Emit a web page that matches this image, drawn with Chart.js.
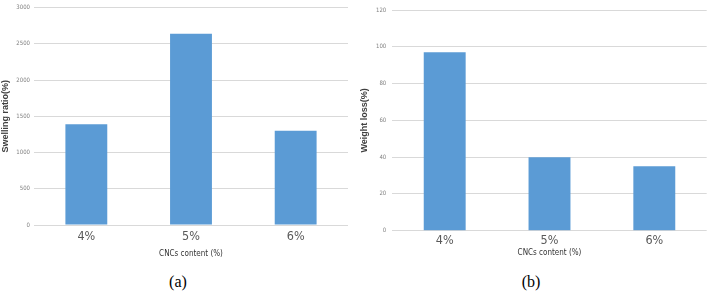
<!DOCTYPE html>
<html>
<head>
<meta charset="utf-8">
<script src="https://cdn.jsdelivr.net/npm/chart.js@4/dist/chart.umd.min.js"></script>
<style>
  html, body { margin:0; padding:0; background:#fff; }
  body { width:708px; height:294px; position:relative; overflow:hidden; }
  .wrap { position:absolute; top:0; width:354px; height:265px; }
  .cap { position:absolute; font-family:"Liberation Serif","DejaVu Serif",serif; font-size:16px; color:#000; transform:translate(-50%,-50%); white-space:nowrap; }
</style>
</head>
<body>
<div class="wrap" style="left:0"><canvas id="ca" width="354" height="265"></canvas></div>
<div class="wrap" style="left:354px"><canvas id="cb" width="354" height="265"></canvas></div>
<div class="cap" style="left:178px;top:282px">(a)</div>
<div class="cap" style="left:531px;top:282px">(b)</div>
<script>
const categories = ['4%', '5%', '6%'];
const swellingRatio = [1390, 2640, 1300];
const weightLoss = [97, 40, 35];
const swellingAxis = { min: 0, max: 3000, step: 500 };
const weightAxis = { min: 0, max: 120, step: 20 };
const xTitle = 'CNCs content (%)';
const yTitleA = 'Swelling ratio(%)';
const yTitleB = 'Weight loss(%)';

const BAR = '#5B9BD5';
const GRID = '#d9d9d9';
const NARROW = '"DejaVu Sans Condensed","Liberation Sans Narrow","Arial Narrow",sans-serif';
const SANS = '"Liberation Sans",Arial,sans-serif';

function makeChart(id, data, axis, yTitle, g) {
  return new Chart(document.getElementById(id), {
    type: 'bar',
    data: { labels: categories, datasets: [{ data: data, backgroundColor: BAR, borderWidth: 0, categoryPercentage: 1, barPercentage: 0.4 }] },
    options: {
      responsive: false, animation: false,
      layout: { padding: { left: 0, right: g.padRight, top: g.padTop, bottom: 0 } },
      plugins: { legend: { display: false }, tooltip: { enabled: false } },
      scales: {
        x: {
          grid: { display: false, drawTicks: false },
          border: { display: false },
          ticks: { color: '#595959', font: { family: NARROW, size: 12.5 }, padding: g.xTickPad, maxRotation: 0 },
          title: { display: true, text: xTitle, color: '#333', font: { family: NARROW, size: 8 }, padding: { top: 0, bottom: g.xTitlePad } },
          afterFit: s => { s.height = g.xHeight; }
        },
        y: {
          min: axis.min, max: axis.max,
          grid: { color: GRID, lineWidth: 1, drawTicks: false },
          border: { display: false },
          ticks: { stepSize: axis.step, color: '#808080', font: { family: NARROW, size: 6 }, padding: g.yTickPad, callback: v => String(v) },
          title: { display: true, text: yTitle, color: '#404040', font: { family: SANS, size: 9, weight: 'bold' }, padding: { top: g.yTitlePad, bottom: 0 } },
          afterFit: s => { s.width = g.yWidth; }
        }
      }
    }
  });
}

makeChart('ca', swellingRatio, swellingAxis, yTitleA, { padRight: 6, padTop: 4.5, xHeight: 40, xTickPad: 4, xTitlePad: 6, yTickPad: 4, yTitlePad: 0.5, yWidth: 34 });
makeChart('cb', weightLoss, weightAxis, yTitleB, { padRight: 1.3, padTop: 10, xHeight: 34.3, xTickPad: 3, xTitlePad: 7, yTickPad: 6, yTitlePad: 5, yWidth: 38.3 });
</script>
</body>
</html>
